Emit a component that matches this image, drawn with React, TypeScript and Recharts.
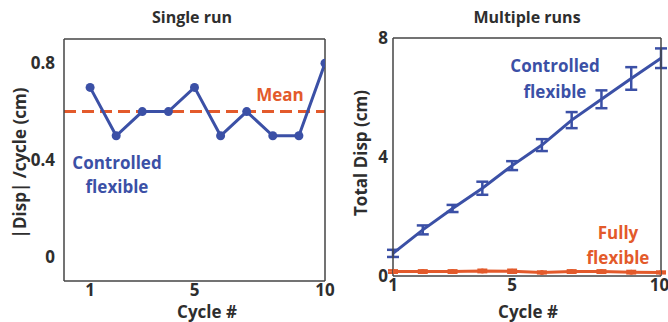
import React from "react";
import {
  ErrorBar,
  Line,
  LineChart,
  ReferenceLine,
  XAxis,
  YAxis,
} from "recharts";

const cycles = [1, 2, 3, 4, 5, 6, 7, 8, 9, 10];
const singleRun = [0.7, 0.5, 0.6, 0.6, 0.7, 0.5, 0.6, 0.5, 0.5, 0.8];
const singleMean = 0.6;
const controlledTotal = [0.76, 1.55, 2.27, 2.95, 3.71, 4.4, 5.24, 5.94, 6.64, 7.32];
const controlledErr = [0.12, 0.15, 0.12, 0.22, 0.15, 0.2, 0.27, 0.3, 0.38, 0.33];
const fullyTotal = [0.15, 0.15, 0.15, 0.17, 0.16, 0.12, 0.15, 0.15, 0.13, 0.12];
const fullyErr = [0.04, 0.04, 0.04, 0.04, 0.05, 0.03, 0.04, 0.04, 0.04, 0.03];

const leftYTicks = [0, 0.1, 0.2, 0.3, 0.4, 0.5, 0.6, 0.7, 0.8];
const leftYLabels = [0, 0.4, 0.8];
const leftXLabels = [1, 5, 10];
const leftXTopTicks = [2, 4, 6, 8];
const rightYTicks = [0, 1, 2, 3, 4, 5, 6, 7, 8];
const rightYLabels = [0, 4, 8];
const rightXLabels = [1, 5, 10];
const rightXTopTicks = [2, 3, 4, 5, 6, 7, 8, 9];

const BLUE = "#3b50a6";
const ORANGE = "#e35a2b";
const INK = "#2e2e2e";
const AXIS = "#444";
const FONT = "'Open Sans', sans-serif";

const singleData = cycles.map((c, i) => ({ cycle: c, disp: singleRun[i] }));
const multiData = cycles.map((c, i) => ({
  cycle: c,
  ctrl: controlledTotal[i],
  ctrlErr: controlledErr[i],
  fully: fullyTotal[i],
  fullyErr: fullyErr[i],
}));

const tickStyle = { fontSize: 17, fontWeight: 700, fill: INK, fontFamily: FONT };

const txt = (extra: React.CSSProperties): React.CSSProperties => ({
  position: "absolute",
  fontFamily: FONT,
  fontWeight: 700,
  whiteSpace: "nowrap",
  lineHeight: 1,
  ...extra,
});

// four-sided box with inward tick marks, plus labelled bottom/left axes
function Frame({
  xDomain,
  yDomain,
  xLabels,
  xTop,
  yLabels,
  yTicks,
  yMargin,
}: {
  xDomain: number[];
  yDomain: number[];
  xLabels: number[];
  xTop: number[];
  yLabels: number[];
  yTicks: number[];
  yMargin: number;
}) {
  const line = { stroke: AXIS, strokeWidth: 1.5 };
  return [
    <XAxis
      key="xb"
      dataKey="cycle"
      type="number"
      domain={xDomain}
      ticks={xLabels}
      height={30}
      tick={tickStyle}
      tickLine={false}
      tickSize={0}
      tickMargin={3}
      axisLine={line}
      allowDataOverflow
    />,
    <XAxis
      key="xbm"
      xAxisId="bm"
      dataKey="cycle"
      type="number"
      domain={xDomain}
      ticks={xLabels}
      mirror
      tick={false}
      tickSize={5}
      tickLine={line}
      axisLine={false}
      allowDataOverflow
    />,
    <XAxis
      key="xt"
      xAxisId="top"
      dataKey="cycle"
      type="number"
      orientation="top"
      domain={xDomain}
      ticks={xTop}
      mirror
      tick={false}
      tickSize={5}
      tickLine={line}
      axisLine={line}
      allowDataOverflow
    />,
    <YAxis
      key="yl"
      type="number"
      domain={yDomain}
      ticks={yLabels}
      width={40}
      tick={tickStyle}
      tickLine={false}
      tickSize={0}
      tickMargin={yMargin}
      axisLine={line}
      allowDataOverflow
    />,
    <YAxis
      key="ylm"
      yAxisId="lm"
      type="number"
      domain={yDomain}
      ticks={yTicks}
      mirror
      tick={false}
      tickSize={5}
      tickLine={line}
      axisLine={false}
      allowDataOverflow
    />,
    <YAxis
      key="yr"
      yAxisId="right"
      type="number"
      orientation="right"
      domain={yDomain}
      ticks={yTicks}
      mirror
      tick={false}
      tickSize={5}
      tickLine={line}
      axisLine={line}
      allowDataOverflow
    />,
  ];
}

function SingleRun() {
  return (
    <LineChart
      width={340}
      height={322}
      data={singleData}
      margin={{ top: 39, right: 15, bottom: 11, left: 24 }}
    >
      {Frame({
        xDomain: [0, 10],
        yDomain: [-0.1, 0.9],
        xLabels: leftXLabels,
        xTop: leftXTopTicks,
        yLabels: leftYLabels,
        yTicks: leftYTicks,
        yMargin: 9,
      })}
      <ReferenceLine
        y={singleMean}
        stroke={ORANGE}
        strokeWidth={3}
        strokeDasharray="12 6"
      />
      <Line
        dataKey="disp"
        stroke={BLUE}
        strokeWidth={3}
        dot={{ r: 4.5, fill: BLUE, stroke: BLUE, strokeWidth: 0 }}
        isAnimationActive={false}
      />
    </LineChart>
  );
}

function MultipleRuns() {
  return (
    <LineChart
      width={328}
      height={322}
      data={multiData}
      margin={{ top: 38, right: 7, bottom: 16, left: 13 }}
    >
      {Frame({
        xDomain: [1, 10],
        yDomain: [0, 8],
        xLabels: rightXLabels,
        xTop: rightXTopTicks,
        yLabels: rightYLabels,
        yTicks: rightYTicks,
        yMargin: 5,
      })}
      <Line
        dataKey="fully"
        stroke={ORANGE}
        strokeWidth={3}
        dot={{ r: 2.5, fill: ORANGE, stroke: ORANGE, strokeWidth: 0 }}
        isAnimationActive={false}
      >
        <ErrorBar dataKey="fullyErr" width={5} stroke={ORANGE} strokeWidth={2.5} />
      </Line>
      <Line
        dataKey="ctrl"
        stroke={BLUE}
        strokeWidth={3}
        dot={false}
        isAnimationActive={false}
      >
        <ErrorBar dataKey="ctrlErr" width={6} stroke={BLUE} strokeWidth={2.5} />
      </Line>
    </LineChart>
  );
}

export default function App() {
  return (
    <div
      style={{
        position: "absolute",
        left: 0,
        top: 0,
        width: 668,
        height: 322,
        background: "#fff",
        overflow: "hidden",
        fontFamily: FONT,
      }}
    >
      <div style={{ position: "absolute", left: 0, top: 0 }}>
        <SingleRun />
      </div>
      <div style={{ position: "absolute", left: 340, top: 0 }}>
        <MultipleRuns />
      </div>

      <div style={txt({ left: 192, top: 9, fontSize: 16, color: INK, transform: "translateX(-50%)" })}>
        Single run
      </div>
      <div style={txt({ left: 527, top: 9, fontSize: 16, color: INK, transform: "translateX(-50%)" })}>
        Multiple runs
      </div>
      <div style={txt({ left: 207, top: 303, fontSize: 17, color: INK, transform: "translateX(-50%)" })}>
        Cycle #
      </div>
      <div style={txt({ left: 528, top: 303, fontSize: 17, color: INK, transform: "translateX(-50%)" })}>
        Cycle #
      </div>
      <div
        style={txt({
          left: 19,
          top: 163,
          fontSize: 17,
          color: INK,
          transform: "translate(-50%, -50%) rotate(-90deg)",
        })}
      >
        |Disp| /cycle (cm)
      </div>
      <div
        style={txt({
          left: 360,
          top: 153,
          fontSize: 17,
          color: INK,
          transform: "translate(-50%, -50%) rotate(-90deg)",
        })}
      >
        Total Disp (cm)
      </div>

      <div style={txt({ left: 280, top: 86, fontSize: 17, color: ORANGE, transform: "translateX(-50%)" })}>
        Mean
      </div>
      <div
        style={txt({
          left: 117,
          top: 151,
          fontSize: 17,
          color: BLUE,
          textAlign: "center",
          lineHeight: "24px",
          transform: "translateX(-50%)",
        })}
      >
        Controlled
        <br />
        flexible
      </div>
      <div
        style={txt({
          left: 555,
          top: 53,
          fontSize: 17,
          color: BLUE,
          textAlign: "center",
          lineHeight: "26px",
          transform: "translateX(-50%)",
        })}
      >
        Controlled
        <br />
        flexible
      </div>
      <div
        style={txt({
          left: 618,
          top: 220,
          fontSize: 17,
          color: ORANGE,
          textAlign: "center",
          lineHeight: "25px",
          transform: "translateX(-50%)",
        })}
      >
        Fully
        <br />
        flexible
      </div>
    </div>
  );
}
